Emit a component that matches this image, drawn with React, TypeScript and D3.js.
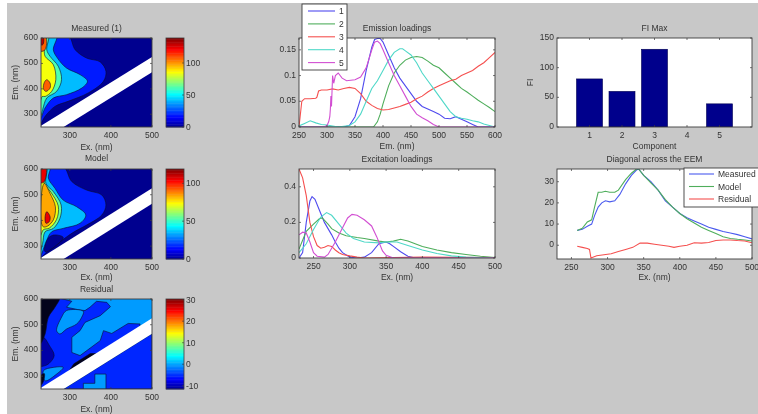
import React from "react";
import * as d3 from "d3";

type P = [number, number];
const jetStops = ["#00008f", "#0000ff", "#00ffff", "#ffff00", "#ff0000", "#800000"];
const jetPos = [0, 0.11, 0.37, 0.62, 0.87, 1];
const jet = d3.scaleLinear<string>().domain(jetPos).range(jetStops).clamp(true);

const bandPoly: P[] = [[230, 255], [500, 525], [500, 465], [285, 250], [230, 250]];

type Level = { v: number | null; pts: P[]; sharp?: boolean };

const measuredLevels: Level[] = [
  { v: 19, pts: [[296, 610], [313, 554], [341, 521], [374, 506], [388, 469], [382, 430], [345, 384], [296, 351], [264, 331], [240, 292], [228, 262], [220, 400], [225, 610]] },
  { v: 42, pts: [[268, 610], [260, 554], [270, 521], [292, 482], [325, 456], [343, 430], [329, 403], [292, 377], [260, 364], [240, 325], [228, 282], [220, 400], [225, 610]] },
  { v: 62, pts: [[248, 610], [244, 554], [252, 528], [272, 489], [280, 436], [268, 390], [244, 364], [234, 318], [228, 288], [220, 400], [225, 610]] },
  { v: 85, pts: [[240, 610], [238, 554], [240, 528], [260, 495], [266, 436], [256, 390], [240, 370], [233, 370], [228, 352], [222, 450], [225, 610]] },
  { v: 108, pts: [[244, 436], [252, 423], [252, 403], [242, 390], [236, 400], [238, 425]] },
  { v: 108, pts: [[230, 610], [242, 605], [240, 554], [230, 548], [224, 580]] },
  { v: 130, pts: [[231, 605], [236, 600], [235, 575], [231, 572]] },
];
const modelLevels: Level[] = [
  { v: 17, pts: [[284, 610], [305, 551], [341, 518], [378, 499], [388, 460], [378, 421], [341, 382], [305, 350], [236, 265], [228, 252], [220, 400], [225, 610]] },
  { v: 0, pts: [[244, 324], [260, 343], [284, 334], [268, 304], [240, 278]] },
  { v: 36, pts: [[252, 610], [248, 564], [264, 525], [284, 479], [317, 453], [339, 421], [325, 389], [284, 369], [256, 356], [244, 324], [228, 262], [220, 400], [225, 610]] },
  { v: 56, pts: [[244, 610], [242, 544], [260, 512], [279, 460], [276, 408], [260, 369], [240, 356], [234, 311], [228, 282], [220, 400], [225, 610]] },
  { v: 72, pts: [[240, 610], [238, 544], [254, 510], [272, 456], [268, 404], [250, 370], [236, 364], [228, 340], [220, 400], [225, 610]] },
  { v: 84, pts: [[238, 544], [252, 505], [265, 453], [260, 402], [246, 378], [236, 375], [231, 390], [231, 500]] },
  { v: 106, pts: [[244, 434], [252, 415], [250, 395], [242, 389], [240, 415]] },
  { v: 106, pts: [[230, 610], [242, 605], [238, 551], [230, 546], [224, 580]] },
];
const residualBase = -0.3;
const residualLevels: Level[] = [
  { v: -5.3, pts: [[272, 605], [305, 591], [292, 568], [325, 557], [337, 555], [349, 568], [365, 591], [390, 587], [399, 570], [374, 535], [337, 509], [325, 477], [305, 451], [305, 392], [325, 380], [374, 438], [382, 477], [402, 466], [442, 505], [471, 503], [470, 490], [230, 250], [225, 400], [228, 605]], sharp: true },
  { v: -5.3, pts: [[285, 250], [500, 250], [500, 465]], sharp: true },
  { v: residualBase, pts: [[333, 250], [333, 272], [361, 272], [361, 308], [388, 308], [388, 250]], sharp: true },
  { v: residualBase, pts: [[292, 555], [333, 552], [329, 529], [317, 503], [292, 483], [276, 464], [268, 477], [280, 529]] },
  { v: residualBase, pts: [[236, 321], [260, 334], [284, 334], [268, 308], [240, 282]] },
  { v: -10.5, pts: [[236, 450], [250, 420], [262, 380], [250, 350], [238, 340], [226, 340], [226, 430]] },
  { v: null, pts: [[234, 605], [275, 605], [264, 568], [248, 529], [240, 464], [228, 425], [224, 520]] },
  { v: null, pts: [[300, 325], [310, 348], [350, 388], [365, 388]], sharp: true },
  { v: null, pts: [[228, 300], [238, 310], [236, 280], [228, 262]] },
];

const em1: P[] = [[250,0],[330,0],[340,.003],[350,.02],[360,.055],[370,.11],[380,.155],[385,.17],[390,.172],[395,.172],[400,.165],[410,.14],[420,.115],[430,.095],[440,.08],[450,.065],[460,.05],[470,.04],[480,.035],[490,.03],[500,.025],[510,.017],[520,.016],[530,.02],[540,.015],[550,.01],[560,.005],[570,0],[600,0]];
const em2: P[] = [[250,0],[383,0],[390,.01],[395,.025],[400,.045],[410,.08],[420,.105],[430,.12],[440,.13],[450,.135],[460,.137],[470,.135],[480,.128],[490,.12],[500,.115],[510,.105],[520,.095],[530,.085],[540,.075],[550,.068],[560,.06],[570,.052],[580,.045],[590,.038],[600,.03]];
const em3: P[] = [[250,0],[252,.02],[255,.05],[260,.055],[270,.055],[280,.056],[282,.058],[285,.07],[290,.072],[300,.072],[310,.074],[320,.072],[330,.075],[340,.077],[350,.075],[360,.065],[370,.05],[380,.042],[390,.036],[400,.033],[410,.034],[420,.037],[430,.04],[440,.044],[450,.048],[460,.055],[470,.06],[480,.068],[490,.075],[500,.08],[510,.085],[520,.09],[530,.093],[540,.1],[550,.105],[560,.11],[570,.118],[580,.125],[590,.135],[600,.145]];
const em4: P[] = [[250,.002],[260,.007],[270,.012],[280,.008],[290,.005],[300,.004],[320,0],[340,.003],[350,.01],[360,.025],[370,.05],[380,.075],[390,.09],[400,.11],[410,.13],[420,.145],[430,.152],[435,.152],[440,.148],[450,.14],[460,.125],[470,.105],[480,.09],[490,.075],[500,.06],[510,.045],[520,.03],[530,.02],[540,.017],[550,.015],[560,.012],[570,.01],[580,.006],[590,.003],[600,0]];
const em5: P[] = [[250,0],[295,0],[300,.003],[303,.01],[305,.02],[306,.035],[307,.06],[308,.04],[309,.07],[310,.1],[312,.085],[315,.1],[320,.105],[327,.095],[335,.09],[350,.092],[360,.097],[370,.115],[380,.15],[385,.165],[390,.167],[395,.162],[400,.15],[410,.125],[420,.1],[430,.08],[440,.06],[450,.04],[460,.025],[470,.018],[480,.012],[490,.005],[500,0],[600,0]];

const ex1: P[] = [[230,0],[235,.03],[240,.2],[245,.32],[248,.345],[252,.33],[258,.27],[265,.2],[270,.165],[275,.13],[280,.09],[285,.055],[290,.03],[300,.005],[310,0],[320,.005],[330,.03],[340,.08],[350,.09],[355,.08],[360,.065],[370,.035],[380,.01],[390,0],[500,0]];
const ex2: P[] = [[230,.05],[235,.1],[240,.15],[250,.19],[258,.22],[262,.225],[270,.19],[275,.165],[285,.14],[295,.125],[310,.115],[320,.11],[340,.095],[350,.09],[360,.095],[370,.105],[380,.095],[390,.08],[400,.065],[420,.045],[440,.03],[460,.02],[480,.01],[500,.002]];
const ex3: P[] = [[230,.5],[235,.45],[240,.35],[245,.2],[250,.12],[255,.07],[260,.055],[265,.06],[270,.07],[275,.065],[280,.045],[285,.03],[290,.02],[300,.012],[310,.005],[320,0],[400,.005],[450,.004],[500,.002]];
const ex4: P[] = [[230,.03],[240,.08],[250,.16],[260,.23],[268,.255],[275,.24],[285,.19],[295,.14],[305,.11],[320,.09],[340,.085],[350,.09],[365,.09],[380,.07],[400,.045],[420,.025],[440,.012],[460,.005],[500,0]];
const ex5: P[] = [[230,.13],[235,.145],[240,.14],[245,.09],[250,.03],[255,.01],[265,.005],[270,.02],[280,.09],[290,.17],[297,.225],[303,.245],[310,.24],[320,.215],[330,.18],[337,.12],[345,.04],[350,.015],[360,0],[500,0]];

const seriesColors = ["#4f4aee", "#4fae5c", "#f5504f", "#4fd8c8", "#d24fd2"];
const componentNames = ["1", "2", "3", "4", "5"];
const fiMax = [81, 60, 131, 0, 39];

const diagMeasured: P[] = [[258,7],[265,7.5],[272,9],[278,10],[282,14],[287,18],[292,20],[297,21],[303,20.5],[310,21],[317,24],[325,29],[333,33],[340,35.5],[343,36],[350,33],[360,30],[370,26],[380,21],[390,18],[400,15],[410,13],[420,11.5],[430,10],[440,8.5],[450,7.5],[460,6.5],[470,5.8],[480,5],[490,4],[500,3]];
const diagModel: P[] = [[258,7],[265,8],[272,11],[278,12],[282,18],[287,25],[292,25],[297,25.5],[303,25],[310,25],[315,26],[325,31],[333,34],[340,36],[343,36],[350,33],[360,29.5],[370,26],[380,21.5],[390,18],[400,15],[410,12.5],[420,10.5],[430,8.5],[440,7],[450,5.5],[460,4],[470,3.2],[480,2.8],[490,2.5],[500,2]];
const diagResidual: P[] = [[258,-.5],[265,-1],[272,-1.5],[275,-2],[277,-6],[285,-5],[295,-4.5],[305,-4],[315,-3],[325,-2],[335,-1],[345,1],[355,1],[365,.5],[375,0],[385,-.5],[392,-1],[400,-.5],[410,0],[420,1.2],[430,1],[440,1.3],[450,2.2],[460,2.5],[470,2.5],[480,2.2],[490,2],[500,1.2]];
const diagNames = ["Measured", "Model", "Residual"];
const diagColors = ["#4a5aee", "#4fae5c", "#f5504f"];

const FONT = "'Liberation Sans', Arial, sans-serif";
const TXT = "#333";
const AX = "#3c3c3c";

type Box = { x0: number; x1: number; y0: number; y1: number };
type AxesProps = {
  box: Box; xd: [number, number]; yd: [number, number];
  xt: number[]; yt: (number)[];
  title?: string; titleY?: number; xl?: string; xlY?: number; yl?: string; ylX?: number;
  children?: (x: d3.ScaleLinear<number, number>, y: d3.ScaleLinear<number, number>) => React.ReactNode;
  bg?: string; id: string;
};

function Axes({ box, xd, yd, xt, yt, title, titleY, xl, xlY, yl, ylX, children, bg, id }: AxesProps) {
  const x = d3.scaleLinear().domain(xd).range([box.x0, box.x1]);
  const y = d3.scaleLinear().domain(yd).range([box.y1, box.y0]);
  const w = box.x1 - box.x0, h = box.y1 - box.y0;
  return (
    <g fontFamily={FONT} fontSize={8.5} fill={TXT}>
      <clipPath id={id}><rect x={box.x0} y={box.y0} width={w} height={h} /></clipPath>
      <rect x={box.x0} y={box.y0} width={w} height={h} fill={bg ?? "#fff"} />
      <g clipPath={`url(#${id})`}>{children && children(x, y)}</g>
      <rect x={box.x0} y={box.y0} width={w} height={h} fill="none" stroke={AX} strokeWidth={0.9} />
      {xt.map((t) => (
        <g key={t}>
          <line x1={x(t)} x2={x(t)} y1={box.y1} y2={box.y1 - 2} stroke={AX} strokeWidth={0.7} />
          <line x1={x(t)} x2={x(t)} y1={box.y0} y2={box.y0 + 2} stroke={AX} strokeWidth={0.7} />
          <text x={x(t)} y={box.y1 + 11} textAnchor="middle">{t}</text>
        </g>
      ))}
      {yt.map((t) => (
        <g key={t}>
          <line x1={box.x0} x2={box.x0 + 2} y1={y(t)} y2={y(t)} stroke={AX} strokeWidth={0.7} />
          <line x1={box.x1} x2={box.x1 - 2} y1={y(t)} y2={y(t)} stroke={AX} strokeWidth={0.7} />
          <text x={box.x0 - 3} y={y(t) + 2} textAnchor="end">{t}</text>
        </g>
      ))}
      {title && <text x={(box.x0 + box.x1) / 2} y={titleY} textAnchor="middle">{title}</text>}
      {xl && <text x={(box.x0 + box.x1) / 2} y={xlY} textAnchor="middle">{xl}</text>}
      {yl && <text transform={`translate(${ylX},${(box.y0 + box.y1) / 2}) rotate(-90)`} textAnchor="middle">{yl}</text>}
    </g>
  );
}

function Heat({ box, title, titleY, xlY, levels, base, vmin, vmax, cbTicks, id }: {
  box: Box; title: string; titleY: number; xlY: number; levels: Level[];
  base: number; vmin: number; vmax: number; cbTicks: number[]; id: string;
}) {
  const col = (v: number) => jet((v - vmin) / (vmax - vmin));
  const cy = d3.scaleLinear().domain([vmin, vmax]).range([box.y1, box.y0]);
  const steps = d3.range(64);
  const bh = (box.y1 - box.y0) / 64;
  return (
    <g>
      <Axes box={box} xd={[230, 500]} yd={[250, 600]} xt={[300, 400, 500]} yt={[300, 400, 500, 600]} title={title} titleY={titleY}
        xl="Ex. (nm)" xlY={xlY} yl="Em. (nm)" ylX={18} id={id} bg={col(base)}>
        {(x, y) => {
          const sharp = d3.line<P>().x((d) => x(d[0])).y((d) => y(d[1]));
          const round = d3.line<P>().x((d) => x(d[0])).y((d) => y(d[1])).curve(d3.curveCatmullRomClosed.alpha(0.5));
          return (
            <>
              {levels.map((l, i) => (
                <path key={i} d={l.sharp ? sharp(l.pts)! + "Z" : round(l.pts)!} fill={l.v === null ? "#03031c" : col(l.v)} stroke="#0a0a28" strokeWidth={0.6} />
              ))}
              <path d={sharp(bandPoly)! + "Z"} fill="#fff" />
            </>
          );
        }}
      </Axes>
      <g fontFamily={FONT} fontSize={8.5} fill={TXT}>
        {steps.map((s) => (
          <rect key={s} x={166} width={18} y={box.y1 - (s + 1) * bh} height={bh + 0.4} fill={jet((s + 0.5) / 64)} />
        ))}
        <rect x={166} width={18} y={box.y0} height={box.y1 - box.y0} fill="none" stroke={AX} strokeWidth={0.8} />
        {cbTicks.map((t) => (
          <g key={t}>
            <line x1={182} x2={184} y1={cy(t)} y2={cy(t)} stroke={AX} strokeWidth={0.6} />
            <text x={186} y={cy(t) + 3}>{t}</text>
          </g>
        ))}
      </g>
    </g>
  );
}

export default function App() {
  const emBox = { x0: 299, x1: 495, y0: 38, y1: 127 };
  const exBox = { x0: 299, x1: 495, y0: 169, y1: 258 };
  const fiBox = { x0: 557, x1: 752, y0: 38, y1: 127 };
  const dgBox = { x0: 557, x1: 752, y0: 169, y1: 259 };
  const emSeries = [em1, em2, em3, em4, em5];
  const exSeries = [ex1, ex2, ex3, ex4, ex5];
  const diagSeries = [diagMeasured, diagModel, diagResidual];
  const drawLines = (series: P[][], colors: string[]) => (x: any, y: any) => {
    const l = d3.line<P>().x((d) => x(d[0])).y((d) => y(d[1]));
    return series.map((s, i) => <path key={i} d={l(s)!} fill="none" stroke={colors[i]} strokeWidth={1.1} />);
  };
  return (
    <svg width={758} height={414} style={{ position: "absolute", left: 0, top: 0, filter: "blur(0.6px)" }}>
      <rect width={758} height={414} fill="#fff" />
      <rect x={7} y={3} width={751} height={411} fill="#c8c8c8" />

      <Heat id="h1" box={{ x0: 41, x1: 152, y0: 38, y1: 127 }} title="Measured (1)" titleY={31} xlY={150} levels={measuredLevels} base={0} vmin={0} vmax={139} cbTicks={[0, 50, 100]} />
      <Heat id="h2" box={{ x0: 41, x1: 152, y0: 169, y1: 259 }} title="Model" titleY={161} xlY={280} levels={modelLevels} base={0} vmin={0} vmax={119} cbTicks={[0, 50, 100]} />
      <Heat id="h3" box={{ x0: 41, x1: 152, y0: 299, y1: 389 }} title="Residual" titleY={292} xlY={412} levels={residualLevels} base={residualBase} vmin={-11.5} vmax={30.3} cbTicks={[-10, 0, 10, 20, 30]} />

      <Axes id="a1" box={emBox} xd={[250, 600]} yd={[0, 0.173]} xt={d3.range(250, 601, 50)} yt={[0, 0.05, 0.1, 0.15]} title="Emission loadings" titleY={31} xl="Em. (nm)" xlY={149}>
        {drawLines(emSeries, seriesColors)}
      </Axes>
      <Axes id="a2" box={exBox} xd={[230, 500]} yd={[0, 0.5]} xt={d3.range(250, 501, 50)} yt={[0, 0.2, 0.4]} title="Excitation loadings" titleY={162} xl="Ex. (nm)" xlY={280}>
        {drawLines(exSeries, seriesColors)}
      </Axes>
      <Axes id="a3" box={fiBox} xd={[0, 6]} yd={[0, 150]} xt={[1, 2, 3, 4, 5]} yt={[0, 50, 100, 150]} title="FI  Max" titleY={31} xl="Component" xlY={149} yl="FI" ylX={533}>
        {(x, y) => fiMax.map((v, i) => (
          <rect key={i} x={x(i + 0.6)} width={x(1.8) - x(1)} y={y(v)} height={y(0) - y(v)} fill="#00008c" stroke="#000050" strokeWidth={0.6} />
        ))}
      </Axes>
      <Axes id="a4" box={dgBox} xd={[230, 500]} yd={[-6.5, 36]} xt={d3.range(250, 501, 50)} yt={[0, 10, 20, 30]} title="Diagonal across the EEM" titleY={162} xl="Ex. (nm)" xlY={280}>
        {drawLines(diagSeries, diagColors)}
      </Axes>

      <g fontFamily={FONT} fontSize={8.5} fill={TXT}>
        <rect x={302} y={4} width={45} height={66} fill="#fff" stroke={AX} strokeWidth={0.9} />
        {componentNames.map((n, i) => {
          const ly = 11 + i * 12.9;
          return (
            <g key={n}>
              <line x1={308} x2={335} y1={ly} y2={ly} stroke={seriesColors[i]} strokeWidth={1.1} />
              <text x={339} y={ly + 3}>{n}</text>
            </g>
          );
        })}
        <rect x={684} y={168} width={76} height={39} fill="#fff" stroke={AX} strokeWidth={0.9} />
        {diagNames.map((n, i) => {
          const ly = 174 + i * 12.5;
          return (
            <g key={n}>
              <line x1={689} x2={714} y1={ly} y2={ly} stroke={diagColors[i]} strokeWidth={1.1} />
              <text x={718} y={ly + 3}>{n}</text>
            </g>
          );
        })}
      </g>
    </svg>
  );
}
